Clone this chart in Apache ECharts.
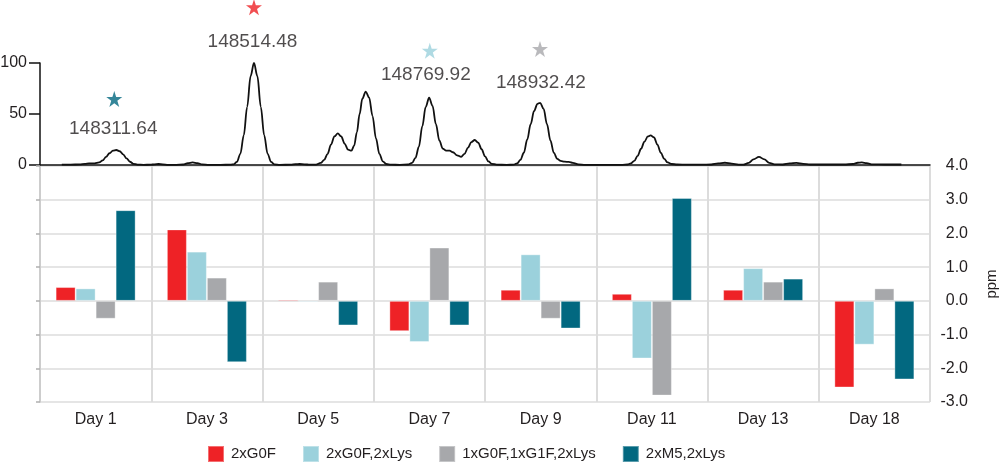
<!DOCTYPE html>
<html>
<head>
<meta charset="utf-8">
<script src="https://cdn.jsdelivr.net/npm/echarts@6/dist/echarts.min.js"></script>
<style>
html,body{margin:0;padding:0;background:#fff;}
#chart{width:1000px;height:463px;}
</style>
</head>
<body>
<div id="chart"></div>
<script>
// ---- Bar chart data (ppm) ----
const categories = ['Day 1','Day 3','Day 5','Day 7','Day 9','Day 11','Day 13','Day 18'];
const seriesNames = ['2xG0F','2xG0F,2xLys','1xG0F,1xG1F,2xLys','2xM5,2xLys'];
const g0f      = [0.41, 2.12, 0.04, -0.90, 0.33, 0.21, 0.33, -2.57];
const g0fLys   = [0.37, 1.46, -0.04, -1.22, 1.38, -1.71, 0.97, -1.30];
const g0fG1f   = [-0.53, 0.69, 0.57, 1.58, -0.53, -2.81, 0.57, 0.37];
const m5Lys    = [2.69, -1.82, -0.73, -0.73, -0.82, 3.05, 0.66, -2.33];
const ppmTicks = [-3, -2, -1, 0, 1, 2, 3, 4];

// ---- Deconvoluted mass spectrum (mass in Da, relative intensity) ----
const spectrumMass = [148232,148245,148258,148266,148272,148280,148287,148292,148297,148302,148307,148312,148317,148322,148327,148332,148337,148343,148352,148362,148368,148374,148380,148388,148400,148410,148417,148424,148431,148438,148448,148465,148480,148484,148489,148494,148499,148504,148509,148514,148519,148524,148529,148534,148539,148544,148552,148568,148575,148581,148588,148596,148605,148612,148617,148622,148627,148632,148637,148642,148647,148652,148657,148661,148665,148669,148673,148678,148683,148688,148693,148698,148703,148708,148715,148728,148740,148746,148751,148756,148761,148766,148771,148776,148781,148786,148791,148796,148801,148806,148812,148818,148823,148828,148833,148838,148843,148848,148853,148858,148863,148870,148885,148895,148900,148905,148910,148915,148920,148925,148930,148934,148939,148944,148949,148954,148959,148964,148970,148976,148982,148990,149000,149020,149040,149055,149062,149067,149072,149077,149082,149087,149092,149096,149101,149106,149111,149116,149121,149127,149135,149150,149170,149185,149195,149205,149215,149225,149232,149240,149247,149255,149263,149270,149278,149290,149300,149310,149320,149330,149350,149380,149393,149400,149406,149413,149422,149440,149464];
const spectrumIntensity = [0.3,0.4,0.6,1.1,1.5,1.6,2.5,4.5,8,11.5,14,14.7,13.5,10.5,6.5,3.2,1.2,0.4,0.2,0.3,0.7,1,0.7,0.2,0.2,0.5,1.8,2.6,1.8,0.6,0.2,0.2,0.3,0.7,3,11,29,57,87,100,87,57,29,11,3,0.7,0.2,0.3,0.8,1,0.7,0.3,0.4,2,5,11,20,28,31,28,21,15,14,19,32,50,65,72,66,48,26,11,3.5,1,0.3,0.2,0.5,2,7,18,38,57,66,58,40,24,16,14,14,12.5,9.5,8,11,17,22.5,24.5,22,15.5,8.5,3.5,1.2,0.3,0.2,0.3,1.5,5,12,25,40,53,60,61,55,40,24,12,6,4,3.3,3,2,0.6,0.2,0.1,0.1,0.2,0.5,1.5,4,9,16,23,28,29,27,20,12,6,2.5,1,0.5,0.4,0.4,0.5,1.5,2.2,1.3,0.4,0.3,2,5.5,8,5.5,2,0.6,0.5,1.5,2,1.2,0.5,0.5,0.5,1,2.2,2.5,1.8,0.6,0.5,0.5];
const intensityTicks = [0, 50, 100];

// ---- Annotated peaks ----
const peakLabels = ['148311.64','148514.48','148769.92','148932.42'];
const labelMass = [148307.5, 148511.8, 148766.2, 148935];
const labelLevel = [36, 121, 88, 80.5];
const starMass = [148309, 148514, 148772, 148933.7];
const starLevel = [64.7, 154.6, 112, 113.7];
const starColorIndex = [3, 0, 1, 2];

const colors = ['#ee2226', '#9bd1dc', '#a7a8ab', '#026880'];
const FONT = '"Liberation Sans", Arial, Helvetica, sans-serif';
const TEXT = '#231f20';
const STAR = 'path://M50,0 L61.8,35.4 L100,35.4 L69.1,57.3 L80.9,95.1 L50,72.4 L19.1,95.1 L30.9,57.3 L0,35.4 L38.2,35.4 Z';

const chart = echarts.init(document.getElementById('chart'), null, {renderer: 'canvas'});

const barData = [g0f, g0fLys, g0fG1f, m5Lys];
const barSeries = barData.map((d, i) => ({
  name: seriesNames[i],
  type: 'bar',
  xAxisIndex: 1,
  yAxisIndex: 1,
  data: d,
  barWidth: 20,
  barGap: '0%',
  itemStyle: {color: colors[i], borderColor: 'rgba(255,255,255,0.35)', borderWidth: 1},
  z: 3
}));

const option = {
  animation: false,
  backgroundColor: '#fff',
  textStyle: {fontFamily: FONT},
  legend: {
    data: seriesNames,
    left: 202,
    top: 440,
    icon: 'rect',
    itemWidth: 16,
    itemHeight: 16,
    itemGap: 26,
    textStyle: {fontSize: 15, color: TEXT, fontFamily: FONT, padding: [0, 0, 0, 2]}
  },
  grid: [
    {left: 40, width: 890, top: 63, height: 102, outerBoundsMode: 'none', containLabel: false},
    {left: 40, width: 890, top: 166, height: 236, outerBoundsMode: 'none', containLabel: false}
  ],
  xAxis: [
    {
      type: 'value', gridIndex: 0, min: 148200, max: 149506,
      axisLine: {show: true, lineStyle: {color: '#111', width: 1.5}},
      axisTick: {show: false}, axisLabel: {show: false}, splitLine: {show: false}
    },
    {
      type: 'category', gridIndex: 1, data: categories,
      axisLine: {show: false}, axisTick: {show: false},
      axisLabel: {fontSize: 16, color: TEXT, margin: 10, fontFamily: FONT},
      splitLine: {show: true, lineStyle: {color: '#dcdcdc', width: 2}}
    }
  ],
  yAxis: [
    {
      type: 'value', gridIndex: 0, min: 0, max: 100, interval: 50,
      axisLine: {show: true, lineStyle: {color: '#111', width: 1.5}},
      axisTick: {show: true, length: 11, lineStyle: {color: '#111', width: 1.5}},
      axisLabel: {fontSize: 16, color: TEXT, margin: 13, fontFamily: FONT,
        formatter: v => intensityTicks.includes(v) ? String(v) : ''},
      splitLine: {show: false}
    },
    {
      type: 'value', gridIndex: 1, position: 'right', min: -3, max: 4, interval: 1,
      name: 'ppm', nameLocation: 'middle', nameRotate: 90, nameGap: 54,
      nameTextStyle: {fontSize: 15, color: TEXT, fontFamily: FONT},
      axisLine: {show: false}, axisTick: {show: false},
      axisLabel: {fontSize: 16, color: TEXT, margin: 38, align: 'right', fontFamily: FONT,
        formatter: v => ppmTicks.includes(v) ? v.toFixed(1) : ''},
      splitLine: {show: true, lineStyle: {color: '#dcdcdc', width: 1.5}}
    },
    {
      type: 'value', gridIndex: 1, position: 'left', min: -3, max: 4, interval: 1,
      axisLine: {show: true, lineStyle: {color: '#c8c8c8', width: 1.5}},
      axisTick: {show: true, length: 4, lineStyle: {color: '#b0b0b0', width: 1.5}},
      axisLabel: {show: false}, splitLine: {show: false}
    }
  ],
  series: [
    {
      name: 'spectrum', type: 'line', xAxisIndex: 0, yAxisIndex: 0,
      data: spectrumMass.map((m, i) => [m, spectrumIntensity[i]]),
      showSymbol: false, smooth: 0.35, smoothMonotone: 'x',
      lineStyle: {color: '#111', width: 1.8}, z: 4, silent: true
    },
    {
      name: 'stars', type: 'scatter', xAxisIndex: 0, yAxisIndex: 0, clip: false,
      symbol: STAR, symbolSize: 16,
      data: starMass.map((m, i) => ({value: [m, starLevel[i]], itemStyle: {color: colors[starColorIndex[i]]}})),
      z: 5, silent: true
    },
    {
      name: 'peakLabels', type: 'scatter', xAxisIndex: 0, yAxisIndex: 0, clip: false,
      symbolSize: 1, itemStyle: {color: 'transparent'},
      label: {show: true, position: 'inside', formatter: p => p.name, fontSize: 19, color: TEXT, fontFamily: FONT},
      data: labelMass.map((m, i) => ({name: peakLabels[i], value: [m, labelLevel[i]]})),
      z: 5, silent: true
    }
  ].concat(barSeries)
};
chart.setOption(option);
</script>
</body>
</html>
